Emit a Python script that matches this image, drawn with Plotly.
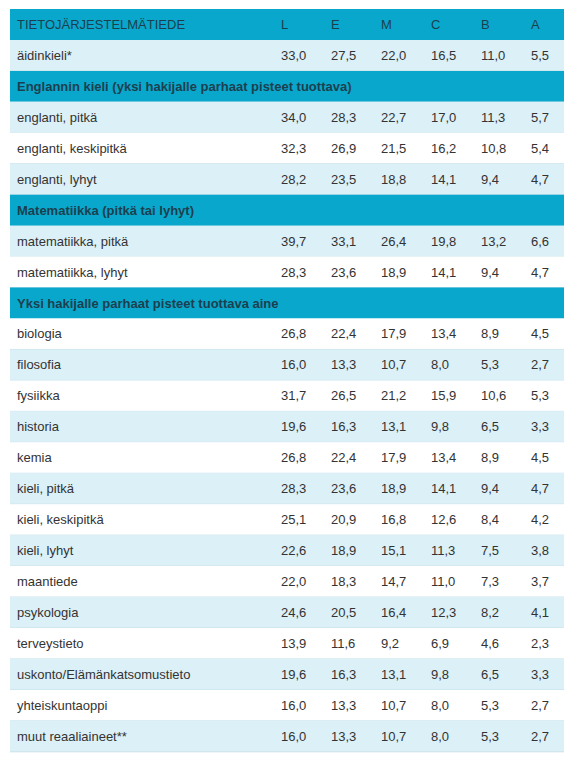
import plotly.graph_objects as go

# ---------------- data ----------------
header_title = "TIETOJÄRJESTELMÄTIEDE"
grades = ["L", "E", "M", "C", "B", "A"]

row_labels = [
    "äidinkieli*",
    "Englannin kieli (yksi hakijalle parhaat pisteet tuottava)",
    "englanti, pitkä",
    "englanti, keskipitkä",
    "englanti, lyhyt",
    "Matematiikka (pitkä tai lyhyt)",
    "matematiikka, pitkä",
    "matematiikka, lyhyt",
    "Yksi hakijalle parhaat pisteet tuottava aine",
    "biologia",
    "filosofia",
    "fysiikka",
    "historia",
    "kemia",
    "kieli, pitkä",
    "kieli, keskipitkä",
    "kieli, lyhyt",
    "maantiede",
    "psykologia",
    "terveystieto",
    "uskonto/Elämänkatsomustieto",
    "yhteiskuntaoppi",
    "muut reaaliaineet**",
]
row_kinds = ["data", "section", "data", "data", "data", "section", "data", "data", "section"] + ["data"] * 14

L_vals = [33.0, None, 34.0, 32.3, 28.2, None, 39.7, 28.3, None,
          26.8, 16.0, 31.7, 19.6, 26.8, 28.3, 25.1, 22.6, 22.0, 24.6, 13.9, 19.6, 16.0, 16.0]
E_vals = [27.5, None, 28.3, 26.9, 23.5, None, 33.1, 23.6, None,
          22.4, 13.3, 26.5, 16.3, 22.4, 23.6, 20.9, 18.9, 18.3, 20.5, 11.6, 16.3, 13.3, 13.3]
M_vals = [22.0, None, 22.7, 21.5, 18.8, None, 26.4, 18.9, None,
          17.9, 10.7, 21.2, 13.1, 17.9, 18.9, 16.8, 15.1, 14.7, 16.4, 9.2, 13.1, 10.7, 10.7]
C_vals = [16.5, None, 17.0, 16.2, 14.1, None, 19.8, 14.1, None,
          13.4, 8.0, 15.9, 9.8, 13.4, 14.1, 12.6, 11.3, 11.0, 12.3, 6.9, 9.8, 8.0, 8.0]
B_vals = [11.0, None, 11.3, 10.8, 9.4, None, 13.2, 9.4, None,
          8.9, 5.3, 10.6, 6.5, 8.9, 9.4, 8.4, 7.5, 7.3, 8.2, 4.6, 6.5, 5.3, 5.3]
A_vals = [5.5, None, 5.7, 5.4, 4.7, None, 6.6, 4.7, None,
          4.5, 2.7, 5.3, 3.3, 4.5, 4.7, 4.2, 3.8, 3.7, 4.1, 2.3, 3.3, 2.7, 2.7]
grade_values = [L_vals, E_vals, M_vals, C_vals, B_vals, A_vals]

# ---------------- style / layout ----------------
PAGE_MARGIN = 8          # default body margin of the html page
W, H = 579 - PAGE_MARGIN, 764 - PAGE_MARGIN
TOP = 9.0 - PAGE_MARGIN
ROW_H = 30.95
X0, X1 = 10 - PAGE_MARGIN, 564 - PAGE_MARGIN
LABEL_X = 15 - PAGE_MARGIN
COL_X0, COL_STEP = 279 - PAGE_MARGIN, 50

TEAL = "#0aa7cc"
LIGHT = "#dcf0f8"
WHITE = "#ffffff"
LINE = "#c8e2ec"
TXT = "#333333"
HDR_TXT = "#1c3f4f"
FONT = "Liberation Sans, Arial, sans-serif"


def fmt(v):
    return f"{v:.1f}".replace(".", ",")


shapes = []
annotations = []

n_rows = len(row_labels) + 1  # + header row


def add_text(x, y, text, color, bold=False):
    annotations.append(dict(
        x=x, y=y, xref="x", yref="y", text=f"<b>{text}</b>" if bold else text,
        showarrow=False, xanchor="left", yanchor="middle",
        font=dict(family=FONT, size=13, color=color),
    ))


# header row (index 0)
shapes.append(dict(type="rect", xref="x", yref="y", x0=X0, x1=X1, y0=0, y1=1,
                   fillcolor=TEAL, line=dict(width=0), layer="below"))
add_text(LABEL_X, 0.5, header_title, HDR_TXT)
for k, g in enumerate(grades):
    add_text(COL_X0 + COL_STEP * k, 0.5, g, HDR_TXT)

for r, (label, kind) in enumerate(zip(row_labels, row_kinds)):
    i = r + 1
    yc = i + 0.5
    if kind == "section":
        shapes.append(dict(type="rect", xref="x", yref="y", x0=X0, x1=X1, y0=i, y1=i + 1,
                           fillcolor=TEAL, line=dict(width=0), layer="below"))
        add_text(LABEL_X, yc, label, HDR_TXT, bold=True)
    else:
        fill = LIGHT if i % 2 == 1 else WHITE
        shapes.append(dict(type="rect", xref="x", yref="y", x0=X0, x1=X1, y0=i, y1=i + 1,
                           fillcolor=fill, line=dict(width=0), layer="below"))
        shapes.append(dict(type="line", xref="x", yref="y", x0=X0, x1=X1, y0=i + 1, y1=i + 1,
                           line=dict(color=LINE, width=1), layer="below"))
        add_text(LABEL_X, yc, label, TXT)
        for k, vals in enumerate(grade_values):
            add_text(COL_X0 + COL_STEP * k, yc, fmt(vals[r]), TXT)

fig = go.Figure()
fig.add_trace(go.Scatter(x=[X0, X1], y=[0, n_rows], mode="markers",
                         marker=dict(opacity=0), hoverinfo="skip", showlegend=False))
fig.update_layout(
    width=W, height=H,
    margin=dict(l=0, r=0, t=0, b=0),
    paper_bgcolor="white", plot_bgcolor="white",
    xaxis=dict(range=[0, W], visible=False, fixedrange=True),
    yaxis=dict(range=[(H - TOP) / ROW_H, -TOP / ROW_H], visible=False, fixedrange=True),
    shapes=shapes, annotations=annotations,
    showlegend=False,
)
fig.write_html("out.html", config={"displayModeBar": False})
